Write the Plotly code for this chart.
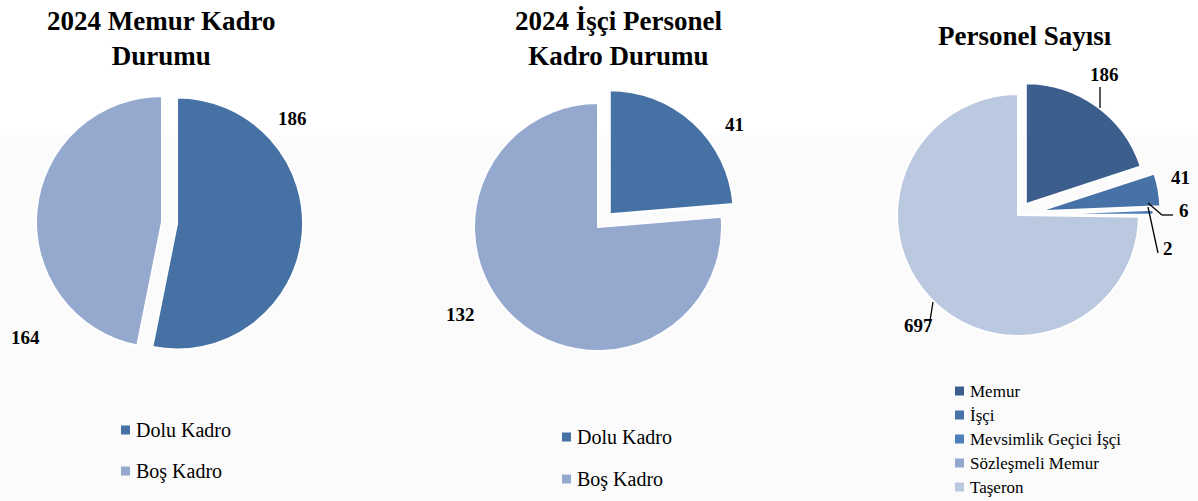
import plotly.graph_objects as go

W, H = 1198, 501
FONT = "Liberation Serif"

# --- data ---------------------------------------------------------------
memur_labels = ["Dolu Kadro", "Boş Kadro"]
memur_values = [186, 164]

isci_labels = ["Dolu Kadro", "Boş Kadro"]
isci_values = [41, 132]

personel_labels = ["Memur", "İşçi", "Mevsimlik Geçici İşçi", "Sözleşmeli Memur", "Taşeron"]
personel_values = [186, 41, 6, 2, 697]

titles = ["2024 Memur Kadro<br>Durumu", "2024 İşçi Personel<br>Kadro Durumu", "Personel Sayısı"]

# --- styling ------------------------------------------------------------
kadro_colors = ["#4571A5", "#95A9CF"]
personel_colors = ["#3B5E8D", "#4672A7", "#4E7EBB", "#93A7CE", "#BAC8E0"]


def px(x):
    return x / W


def py(y):
    return 1 - y / H


def domain(cx, cy, r, pull):
    # plotly shrinks the pie by (1 + max pull); widen the box to compensate
    half = r * (1 + pull)
    return dict(x=[px(cx - half), px(cx + half)], y=[py(cy + half), py(cy - half)])


pies = [
    dict(labels=memur_labels, values=memur_values, colors=kadro_colors,
         pull=[0.12, 0], centre=(162, 222), r=126),
    dict(labels=isci_labels, values=isci_values, colors=kadro_colors,
         pull=[0.14, 0], centre=(598, 227), r=124),
    dict(labels=personel_labels, values=personel_values, colors=personel_colors,
         pull=[0.11, 0.18, 0.12, 0.12, 0], centre=(1018, 215), r=121),
]

fig = go.Figure()
for p in pies:
    fig.add_trace(go.Pie(
        labels=p["labels"], values=p["values"], sort=False, direction="clockwise",
        rotation=0, pull=p["pull"], textinfo="none", hoverinfo="label+value",
        marker=dict(colors=p["colors"], line=dict(color="white", width=2)),
        domain=domain(*p["centre"], p["r"], max(p["pull"])), showlegend=False,
    ))

annotations = []
shapes = [
    # pale band behind the pies
    dict(type="rect", xref="paper", yref="paper", x0=0, x1=1, y0=0, y1=py(135),
         fillcolor="#FBFBFB", line=dict(width=0), layer="below"),
]

# chart titles
title_pos = [(161, 38), (618, 38), (1025, 36)]
for t, (x, y) in zip(titles, title_pos):
    annotations.append(dict(text=f"<b>{t}</b>", x=px(x), y=py(y), xref="paper",
                            yref="paper", showarrow=False, xanchor="center",
                            yanchor="middle",
                            font=dict(family=FONT, size=27, color="black")))

# value labels
label_pos = [
    [(292, 118), (25, 337)],
    [(734, 125), (460, 314)],
    [(1104, 74), (1180, 177), (1184, 210), (1168, 248), (918, 325)],
]
for p, pos in zip(pies, label_pos):
    for v, (x, y) in zip(p["values"], pos):
        annotations.append(dict(text=f"<b>{v}</b>", x=px(x), y=py(y), xref="paper",
                                yref="paper", showarrow=False, xanchor="center",
                                yanchor="middle",
                                font=dict(family=FONT, size=19, color="black")))

# leader lines for the small-slice labels
leaders = [
    [(1100, 108), (1100, 87)],
    [(1148, 203), (1162, 215), (1173, 215)],
    [(1148, 207), (1158, 253)],
    [(933, 302), (929, 327)],
]
for pts in leaders:
    for (x0, y0), (x1, y1) in zip(pts[:-1], pts[1:]):
        shapes.append(dict(type="line", xref="paper", yref="paper",
                           x0=px(x0), y0=py(y0), x1=px(x1), y1=py(y1),
                           line=dict(color="black", width=1.3)))

# legends
legends = [
    dict(labels=memur_labels, colors=kadro_colors, x=121, ys=[430, 471], size=20),
    dict(labels=isci_labels, colors=kadro_colors, x=562, ys=[437, 479], size=20),
    dict(labels=personel_labels, colors=personel_colors, x=955,
         ys=[391, 415, 439, 463, 487], size=17),
]
for lg in legends:
    sq = 9
    for lab, col, y in zip(lg["labels"], lg["colors"], lg["ys"]):
        shapes.append(dict(type="rect", xref="paper", yref="paper",
                           x0=px(lg["x"]), x1=px(lg["x"] + sq),
                           y0=py(y + sq / 2), y1=py(y - sq / 2),
                           fillcolor=col, line=dict(width=0)))
        annotations.append(dict(text=lab, x=px(lg["x"] + sq + 4), y=py(y), xref="paper",
                                yref="paper", showarrow=False, xanchor="left",
                                yanchor="middle",
                                font=dict(family=FONT, size=lg["size"], color="black")))

fig.update_layout(
    width=W, height=H, margin=dict(l=0, r=0, t=0, b=0),
    paper_bgcolor="white", plot_bgcolor="white",
    annotations=annotations, shapes=shapes,
)

fig.write_html("out.html")
